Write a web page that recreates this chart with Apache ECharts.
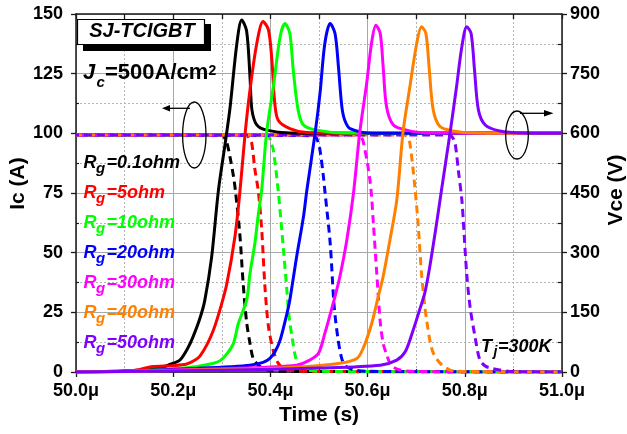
<!DOCTYPE html>
<html>
<head>
<meta charset="utf-8">
<script src="https://cdn.jsdelivr.net/npm/echarts@6/dist/echarts.min.js"></script>
<style>
  html, body { margin: 0; padding: 0; background: #fff; }
  #chart { width: 627px; height: 434px; }
</style>
</head>
<body>
<div id="chart"></div>
<script>
// Gate resistance values of the seven turn-off transients
const rgLabels = ['0.1', '5', '10', '20', '30', '40', '50'];
const curveColors = ['#000000', '#ff0000', '#00ff00', '#0000ff', '#ff00ff', '#ff8000', '#8000ff'];

// Collector-emitter voltage Vce (V) versus time (µs)
const vceRg01 = [[50.0,0],[50.08,1],[50.11,3],[50.15,7],[50.18,13],[50.2,22],[50.214,30],[50.23,60],[50.241,89],[50.255,135],[50.265,180],[50.279,288],[50.293,456],[50.307,575],[50.317,665],[50.331,826],[50.341,885],[50.351,858],[50.358,742],[50.362,659],[50.372,621],[50.392,608],[50.44,601],[50.6,600],[51.0,600]];
const vceRg5 = [[50.0,0],[50.1,2],[50.13,6],[50.155,13],[50.2,16],[50.228,20],[50.245,30],[50.255,40],[50.27,70],[50.283,106],[50.297,160],[50.31,220],[50.327,340],[50.337,450],[50.348,600],[50.358,709],[50.372,826],[50.385,881],[50.396,860],[50.403,784],[50.409,676],[50.416,633],[50.44,612],[50.475,602],[50.6,600],[51.0,600]];
const vceRg10 = [[50.0,0],[50.12,2],[50.2,8],[50.25,14],[50.283,22],[50.296,28],[50.31,45],[50.324,72],[50.334,122],[50.351,180],[50.358,248],[50.368,323],[50.375,395],[50.382,457],[50.392,600],[50.406,717],[50.42,843],[50.43,876],[50.44,851],[50.447,759],[50.457,659],[50.468,621],[50.495,608],[50.55,601],[51.0,600]];
const vceRg20 = [[50.0,0],[50.15,4],[50.25,9],[50.317,13],[50.358,17],[50.385,24],[50.399,34],[50.41,52],[50.42,80],[50.434,147],[50.44,181],[50.454,290],[50.468,390],[50.475,457],[50.492,600],[50.502,700],[50.512,826],[50.523,876],[50.533,851],[50.54,767],[50.547,667],[50.553,633],[50.564,612],[50.612,600],[51.0,600]];
const vceRg30 = [[50.0,0],[50.2,5],[50.35,10],[50.42,14],[50.454,17],[50.481,30],[50.499,47],[50.512,97],[50.523,145],[50.533,190],[50.543,240],[50.557,330],[50.571,450],[50.584,604],[50.598,725],[50.608,826],[50.617,872],[50.626,851],[50.632,767],[50.639,667],[50.653,621],[50.68,608],[50.72,601],[51.0,600]];
const vceRg40 = [[50.0,0],[50.3,6],[50.45,12],[50.543,22],[50.578,34],[50.591,60],[50.608,120],[50.622,190],[50.632,240],[50.646,332],[50.66,432],[50.673,604],[50.687,717],[50.701,826],[50.711,868],[50.72,851],[50.727,759],[50.735,659],[50.749,617],[50.776,606],[50.82,601],[51.0,600]];
const vceRg50 = [[50.0,0],[50.32,5],[50.5,10],[50.626,17],[50.66,30],[50.677,50],[50.691,95],[50.708,160],[50.718,200],[50.728,265],[50.742,374],[50.752,457],[50.77,604],[50.783,717],[50.794,818],[50.804,868],[50.813,851],[50.82,759],[50.828,659],[50.842,621],[50.872,606],[50.92,601],[51.0,600]];

// Collector current Ic (A) versus time (µs)
const icRg01 = [[50.0,99.3],[50.3,99.3],[50.306,98],[50.31,96.5],[50.317,90],[50.324,82],[50.328,76],[50.337,58],[50.344,37],[50.351,21],[50.358,12],[50.364,6],[50.372,3.5],[50.39,1],[50.43,0.3],[51.0,0]];
const icRg5 = [[50.0,99.3],[50.35,99.3],[50.356,98],[50.3615,96],[50.368,85],[50.375,76],[50.382,60],[50.389,35],[50.396,19],[50.406,9],[50.416,3.7],[50.43,1.2],[50.47,0.3],[51.0,0]];
const icRg10 = [[50.0,99.3],[50.395,99],[50.4,97],[50.406,93],[50.416,76],[50.427,51],[50.434,34],[50.438,24],[50.445,14],[50.452,6],[50.458,3.5],[50.47,1.2],[50.5,0.3],[51.0,0]];
const icRg20 = [[50.0,99.3],[50.49,99],[50.496,97.5],[50.502,93],[50.509,82],[50.512,76],[50.523,54],[50.531,28],[50.539,14],[50.547,5.5],[50.555,2.5],[50.57,1],[50.6,0.3],[51.0,0]];
const icRg30 = [[50.0,99.3],[50.582,99.3],[50.587,98.5],[50.591,96.5],[50.6,87],[50.605,80],[50.608,74],[50.612,62],[50.619,41],[50.626,21],[50.632,12],[50.638,8],[50.646,3.6],[50.653,2],[50.667,0.8],[50.7,0.2],[51.0,0]];
const icRg40 = [[50.0,99.3],[50.675,99.3],[50.681,98.5],[50.687,95.8],[50.697,78],[50.704,62],[50.711,41],[50.718,27],[50.722,21],[50.728,13.4],[50.735,8],[50.749,3.7],[50.77,0.8],[50.8,0.2],[51.0,0]];
const icRg50 = [[50.0,99.3],[50.768,99.3],[50.774,98.5],[50.78,95.8],[50.787,84],[50.794,72],[50.797,63],[50.804,41],[50.811,27],[50.821,14.8],[50.831,5],[50.842,2.5],[50.852,1.7],[50.872,0.8],[50.9,0.2],[51.0,0]];

const vceData = [vceRg01, vceRg5, vceRg10, vceRg20, vceRg30, vceRg40, vceRg50];
const icData = [icRg01, icRg5, icRg10, icRg20, icRg30, icRg40, icRg50];

// Axis ranges and tick steps
const timeRange = [50.0, 51.0];
const timeStep = 0.2;
const icRange = [0, 150];
const icStep = 25;
const vceRange = [0, 900];
const vceStep = 150;
const timeUnit = 'μ';

const FONT = '"Liberation Sans", Arial, sans-serif';
const chart = echarts.init(document.getElementById('chart'), null, { renderer: 'canvas' });

const axisLineStyle = { color: '#1a1a1a', width: 1.5 };
const tickLabel = { color: '#000', fontSize: 18, fontWeight: 'bold', fontFamily: FONT };
const majorGrid = { show: true, lineStyle: { color: '#a8a8a8', width: 1, type: 'solid' } };
const minorGrid = { show: true, lineStyle: { color: '#b4b4b4', width: 1, type: [2, 2] } };

const series = [];
icData.forEach((d, i) => {
  series.push({
    name: 'Ic Rg=' + rgLabels[i],
    type: 'line', xAxisIndex: 0, yAxisIndex: 0, data: d,
    showSymbol: false, smooth: 0.3, z: 2,
    lineStyle: { color: curveColors[i], width: 3, type: [8, 5], dashOffset: i * 3, cap: 'butt', join: 'round' }
  });
});
vceData.forEach((d, i) => {
  series.push({
    name: 'Vce Rg=' + rgLabels[i],
    type: 'line', xAxisIndex: 0, yAxisIndex: 1, data: d,
    showSymbol: false, smooth: 0.3, z: 3,
    lineStyle: { color: curveColors[i], width: 3, join: 'round' }
  });
});

// Annotation texts and shapes
const graphics = [];
function txt(x, y, text, size, opts) {
  graphics.push({
    type: 'text', x: x, y: y, z: 50,
    style: Object.assign({
      text: text, fontSize: size, fontWeight: 'bold', fontFamily: FONT, fill: '#000',
      align: 'left', verticalAlign: 'middle', textAlign: 'left', textVerticalAlign: 'middle'
    }, opts || {})
  });
}

// Device name box with drop shadow
graphics.push({ type: 'rect', z: 48, shape: { x: 83, y: 24, width: 128, height: 27 }, style: { fill: '#000' } });
graphics.push({ type: 'rect', z: 49, shape: { x: 77.5, y: 19.5, width: 127, height: 25 }, style: { fill: '#fff', stroke: '#000', lineWidth: 1.2 } });
txt(142, 31.5, 'SJ-TCIGBT', 20, { fontStyle: 'italic', align: 'center', textAlign: 'center' });

// Current density
txt(83, 72.5, 'J', 22, { fontStyle: 'italic' });
txt(96.5, 83, 'c', 15, { fontStyle: 'italic' });
txt(105, 72.5, '=500A/cm', 22);
txt(208.5, 71.5, '2', 14);

// Gate resistance labels
rgLabels.forEach((r, i) => {
  const y = 163 + 30 * i;
  const c = curveColors[i];
  txt(83.5, y, 'R', 18, { fontStyle: 'italic', fill: c });
  txt(96, y + 5.5, 'g', 15, { fontStyle: 'italic', fill: c });
  txt(106.5, y, '=' + r + 'ohm', 18, { fontStyle: 'italic', fill: c });
});

// Junction temperature
txt(481, 346.7, 'T', 18, { fontStyle: 'italic' });
txt(493.5, 352, 'j', 14, { fontStyle: 'italic' });
txt(498, 346.7, '=300K', 18, { fontStyle: 'italic' });

// Axis titles
graphics.push({ type: 'text', x: 18, y: 183.5, rotation: Math.PI / 2, z: 50,
  style: { text: 'Ic (A)', fontSize: 21, fontWeight: 'bold', fontFamily: FONT, fill: '#000',
    align: 'center', verticalAlign: 'middle', textAlign: 'center', textVerticalAlign: 'middle' } });
graphics.push({ type: 'text', x: 616, y: 190, rotation: Math.PI / 2, z: 50,
  style: { text: 'Vce (V)', fontSize: 21, fontWeight: 'bold', fontFamily: FONT, fill: '#000',
    align: 'center', verticalAlign: 'middle', textAlign: 'center', textVerticalAlign: 'middle' } });
txt(319, 415.5, 'Time (s)', 21, { align: 'center', textAlign: 'center' });

// Axis-assignment markers: ellipse + arrow
graphics.push({ type: 'ellipse', z: 50, shape: { cx: 194.3, cy: 135, rx: 11.7, ry: 33 }, style: { fill: 'none', stroke: '#000', lineWidth: 1.3 } });
graphics.push({ type: 'polyline', z: 50, shape: { points: [[190, 108.3], [168, 108.3]] }, style: { stroke: '#000', lineWidth: 1.3 } });
graphics.push({ type: 'polygon', z: 50, shape: { points: [[162, 108.3], [170, 105], [170, 111.6]] }, style: { fill: '#000' } });
graphics.push({ type: 'ellipse', z: 50, shape: { cx: 517, cy: 135, rx: 11.3, ry: 24 }, style: { fill: 'none', stroke: '#000', lineWidth: 1.3 } });
graphics.push({ type: 'polyline', z: 50, shape: { points: [[520, 113.3], [546, 113.3]] }, style: { stroke: '#000', lineWidth: 1.3 } });
graphics.push({ type: 'polygon', z: 50, shape: { points: [[553.5, 113.3], [544, 110], [544, 116.6]] }, style: { fill: '#000' } });

const option = {
  animation: false,
  backgroundColor: '#ffffff',
  grid: { left: 76, right: 65, top: 14, bottom: 62, containLabel: false },
  xAxis: [
    {
      type: 'value', position: 'bottom', min: timeRange[0], max: timeRange[1], interval: timeStep,
      axisLine: { show: true, onZero: false, lineStyle: axisLineStyle },
      axisTick: { show: true, inside: false, length: 5, lineStyle: { color: '#1a1a1a', width: 1.3 } },
      minorTick: { show: true, splitNumber: 2, length: -3, lineStyle: { color: '#1a1a1a', width: 1.2 } },
      axisLabel: Object.assign({ margin: 10, formatter: v => v.toFixed(1) + timeUnit }, tickLabel),
      splitLine: majorGrid,
      minorSplitLine: minorGrid
    },
    {
      type: 'value', position: 'top', min: timeRange[0], max: timeRange[1], interval: timeStep / 2,
      axisLine: { show: true, onZero: false, lineStyle: axisLineStyle },
      axisTick: { show: true, inside: true, length: 5, lineStyle: { color: '#1a1a1a', width: 1.3 } },
      axisLabel: { show: false },
      splitLine: { show: false }
    }
  ],
  yAxis: [
    {
      type: 'value', position: 'left', min: icRange[0], max: icRange[1], interval: icStep,
      axisLine: { show: true, onZero: false, lineStyle: axisLineStyle },
      axisTick: { show: true, inside: false, length: 5, lineStyle: { color: '#1a1a1a', width: 1.3 } },
      minorTick: { show: true, splitNumber: 2, length: -3, lineStyle: { color: '#1a1a1a', width: 1.2 } },
      axisLabel: Object.assign({ margin: 13 }, tickLabel),
      splitLine: majorGrid,
      minorSplitLine: minorGrid
    },
    {
      type: 'value', position: 'right', min: vceRange[0], max: vceRange[1], interval: vceStep,
      axisLine: { show: true, onZero: false, lineStyle: axisLineStyle },
      axisTick: { show: true, inside: false, length: 5, lineStyle: { color: '#1a1a1a', width: 1.3 } },
      minorTick: { show: true, splitNumber: 2, length: -4, lineStyle: { color: '#1a1a1a', width: 1.2 } },
      axisLabel: Object.assign({ margin: 8 }, tickLabel),
      splitLine: { show: false }
    }
  ],
  series: series,
  graphic: { elements: graphics }
};

chart.setOption(option);
</script>
</body>
</html>
